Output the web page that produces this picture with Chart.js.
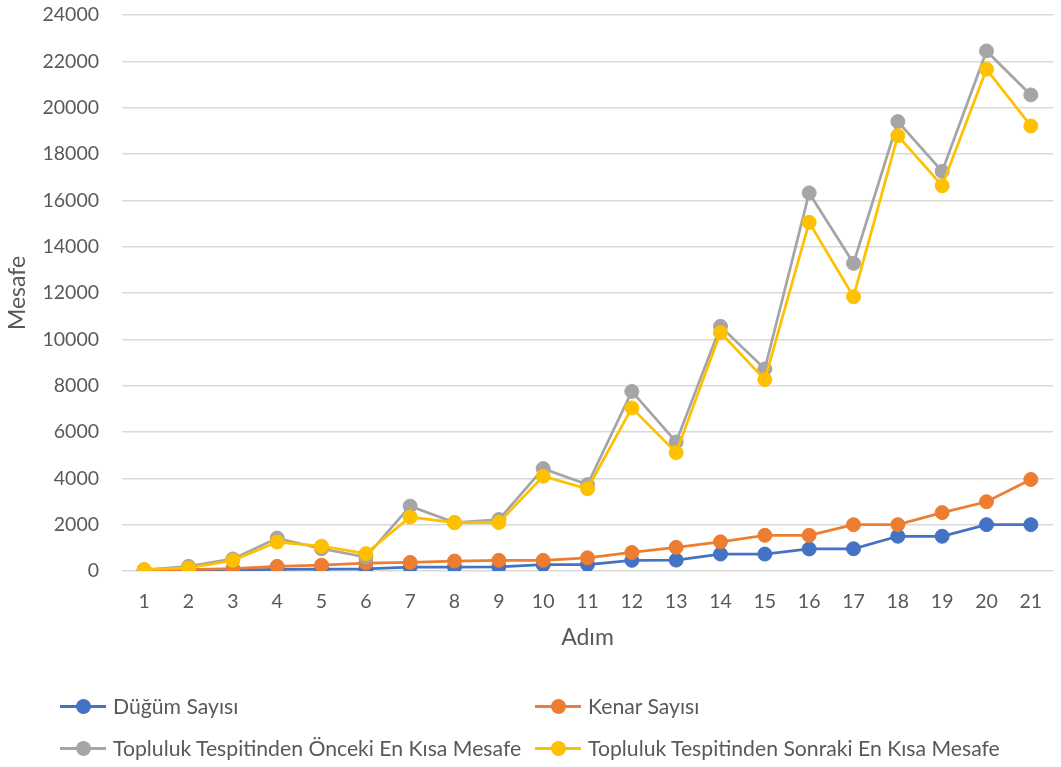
<!DOCTYPE html>
<html>
<head>
<meta charset="utf-8">
<script src="https://cdn.jsdelivr.net/npm/chart.js@4"></script>
<style>
  html, body { margin: 0; padding: 0; background: #fff; }
  #wrap { position: relative; width: 1061px; height: 767px; }
  #legend { position: absolute; left: 0; top: 0; width: 1061px; height: 767px; pointer-events: none;
            font-family: Lato, "Open Sans", sans-serif; font-size: 21.2px; color: #595959; }
  .item { position: absolute; display: flex; align-items: center; white-space: nowrap; }
  .sample { position: relative; width: 46px; height: 16px; margin-right: 7px; }
  .sample .ln { position: absolute; left: 0; right: 0; top: 6.5px; height: 3px; }
  .sample .dot { position: absolute; left: 15.5px; top: 0.5px; width: 15px; height: 15px; border-radius: 50%; }
</style>
</head>
<body>
<div id="wrap">
  <canvas id="c" width="1061" height="767"></canvas>
  <div id="legend"></div>
</div>
<script>
const steps = ["1","2","3","4","5","6","7","8","9","10","11","12","13","14","15","16","17","18","19","20","21"];
const dugumSayisi = [10, 20, 40, 70, 80, 90, 170, 170, 180, 270, 280, 460, 470, 730, 730, 950, 960, 1500, 1500, 2000, 2000];
const kenarSayisi = [30, 60, 100, 200, 250, 340, 370, 430, 460, 460, 570, 800, 1020, 1260, 1540, 1540, 2000, 2000, 2520, 2990, 3950];
const oncekiMesafe = [50, 200, 520, 1420, 960, 600, 2800, 2090, 2220, 4420, 3730, 7750, 5570, 10560, 8720, 16320, 13280, 19400, 17250, 22450, 20550];
const sonrakiMesafe = [60, 130, 460, 1250, 1070, 750, 2330, 2090, 2090, 4090, 3550, 7040, 5110, 10290, 8260, 15050, 11840, 18790, 16630, 21660, 19210];
const seriesLabels = ["Düğüm Sayısı", "Kenar Sayısı", "Topluluk Tespitinden Önceki En Kısa Mesafe", "Topluluk Tespitinden Sonraki En Kısa Mesafe"];
const seriesColors = ["#4472C4", "#ED7D31", "#A5A5A5", "#FFC000"];
const yTitle = "Mesafe";
const xTitle = "Adım";

const FONT = "Lato, 'Open Sans', sans-serif";
const TXT = "#595959";

function ds(i, data) {
  return {
    label: seriesLabels[i],
    data: data,
    borderColor: seriesColors[i],
    backgroundColor: seriesColors[i],
    pointBackgroundColor: seriesColors[i],
    pointBorderColor: seriesColors[i],
    borderWidth: 2.75,
    pointRadius: 7,
    pointBorderWidth: 1,
    tension: 0,
    order: 4 - i
  };
}

const chart = new Chart(document.getElementById('c'), {
  type: 'line',
  data: {
    labels: steps,
    datasets: [ds(0, dugumSayisi), ds(1, kenarSayisi), ds(2, oncekiMesafe), ds(3, sonrakiMesafe)]
  },
  options: {
    responsive: false,
    animation: false,
    layout: { padding: { left: 0, right: 4, top: 15, bottom: 116 } },
    plugins: { legend: { display: false }, tooltip: { enabled: false } },
    scales: {
      x: {
        type: 'category',
        offset: true,
        grid: { display: false, drawTicks: false },
        border: { display: false },
        ticks: { color: TXT, font: { family: FONT, size: 19.5 }, padding: 19, maxRotation: 0, autoSkip: false },
        title: { display: true, text: xTitle, color: TXT, font: { family: FONT, size: 23 }, padding: 0 },
        afterFit: (s) => { s.height = 80; s.paddingLeft = 0; s.paddingRight = 0; }
      },
      y: {
        min: 0, max: 24000,
        ticks: { stepSize: 2000, color: TXT, font: { family: FONT, size: 19.5 }, padding: 23,
                 callback: (v) => String(v) },
        grid: { color: "#D9D9D9", lineWidth: 1.5, drawTicks: false },
        border: { display: false },
        title: { display: true, text: yTitle, color: TXT, font: { family: FONT, size: 23 }, padding: { top: 4, bottom: 0 } },
        afterFit: (s) => { s.width = 122; s.paddingTop = 0; s.paddingBottom = 0; }
      }
    }
  }
});

// HTML legend in two columns, built from the chart's datasets
const legendPos = [
  { left: 60, top: 706 }, { left: 535, top: 706 },
  { left: 60, top: 748 }, { left: 535, top: 748 }
];
const legend = document.getElementById('legend');
chart.data.datasets.forEach((d, i) => {
  const item = document.createElement('div');
  item.className = 'item';
  item.style.left = legendPos[i].left + 'px';
  item.style.top = (legendPos[i].top - 12) + 'px';
  item.style.height = '24px';
  const sample = document.createElement('div');
  sample.className = 'sample';
  const ln = document.createElement('div'); ln.className = 'ln'; ln.style.background = d.borderColor;
  const dot = document.createElement('div'); dot.className = 'dot'; dot.style.background = d.pointBackgroundColor;
  sample.appendChild(ln); sample.appendChild(dot);
  const txt = document.createElement('span');
  txt.textContent = d.label;
  item.appendChild(sample); item.appendChild(txt);
  legend.appendChild(item);
});
</script>
</body>
</html>
